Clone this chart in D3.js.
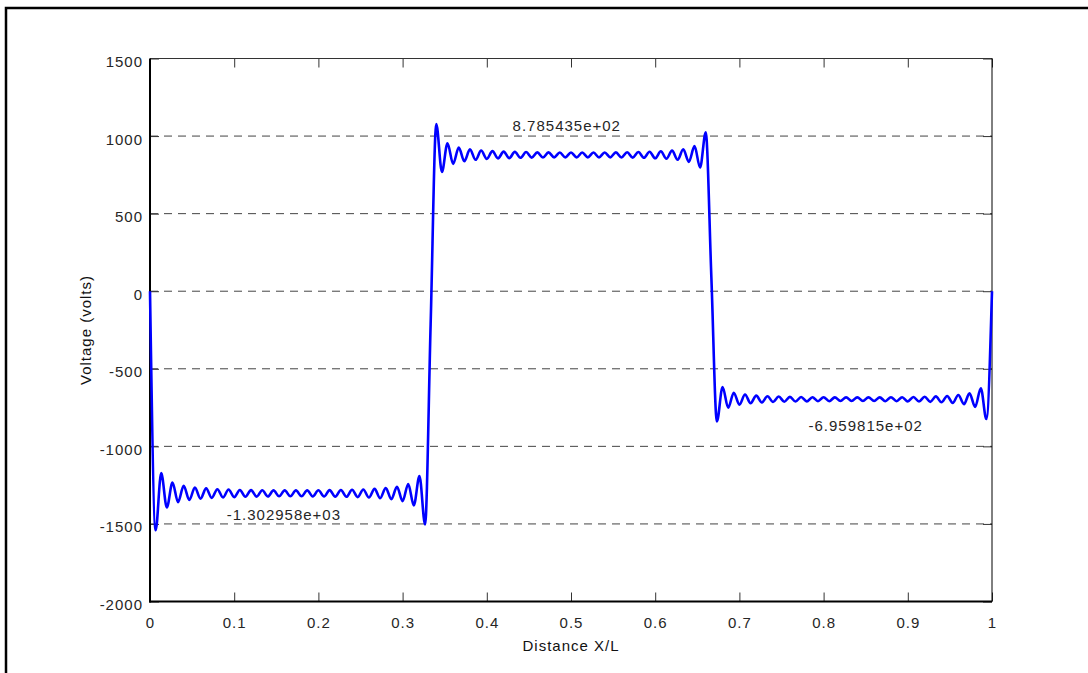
<!DOCTYPE html>
<html>
<head>
<meta charset="utf-8">
<script src="https://cdn.jsdelivr.net/npm/d3@7"></script>
<style>
  body { margin: 0; background: #fff; }
  svg { display: block; }
</style>
</head>
<body>
<script>
// Distance X/L sample points (ripple extrema, plus the jump points)
var distance = [
  0, 0.0067, 0.0133, 0.02, 0.0267, 0.0333, 0.04, 0.0467, 0.0533, 0.06, 0.0667, 0.0733, 0.08, 0.0867, 0.0933, 0.1,
  0.1067, 0.1133, 0.12, 0.1267, 0.1333, 0.14, 0.1467, 0.1533, 0.16, 0.1667, 0.1733, 0.18, 0.1867, 0.1933, 0.2,
  0.2067, 0.2133, 0.22, 0.2267, 0.2333, 0.24, 0.2467, 0.2533, 0.26, 0.2667, 0.2733, 0.28, 0.2867, 0.2933, 0.3,
  0.3067, 0.3133, 0.32, 0.3267, 0.3333,
  0.34, 0.3467, 0.3533, 0.36, 0.3667, 0.3733, 0.38, 0.3867, 0.3933, 0.4,
  0.4067, 0.4133, 0.42, 0.4267, 0.4333, 0.44, 0.4467, 0.4533, 0.46, 0.4667, 0.4733, 0.48, 0.4867, 0.4933, 0.5,
  0.5067, 0.5133, 0.52, 0.5267, 0.5333, 0.54, 0.5467, 0.5533, 0.56, 0.5667, 0.5733, 0.58, 0.5867, 0.5933, 0.6,
  0.6067, 0.6133, 0.62, 0.6267, 0.6333, 0.64, 0.6467, 0.6533, 0.66, 0.6667,
  0.6733, 0.68, 0.6867, 0.6933, 0.7,
  0.7067, 0.7133, 0.72, 0.7267, 0.7333, 0.74, 0.7467, 0.7533, 0.76, 0.7667, 0.7733, 0.78, 0.7867, 0.7933, 0.8,
  0.8067, 0.8133, 0.82, 0.8267, 0.8333, 0.84, 0.8467, 0.8533, 0.86, 0.8667, 0.8733, 0.88, 0.8867, 0.8933, 0.9,
  0.9067, 0.9133, 0.92, 0.9267, 0.9333, 0.94, 0.9467, 0.9533, 0.96, 0.9667, 0.9733, 0.98, 0.9867, 0.9933, 1
];

// Voltage at those points (volts)
var voltage = [
  0, -1541, -1172, -1394, -1233, -1360, -1254, -1346, -1265, -1337, -1271, -1332, -1276, -1329, -1278, -1327,
  -1281, -1325, -1282, -1324, -1283, -1323, -1284, -1322, -1284, -1322, -1284, -1322, -1284, -1323, -1283,
  -1323, -1282, -1324, -1281, -1325, -1280, -1327, -1278, -1330, -1274, -1334, -1269, -1341, -1260, -1353,
  -1243, -1381, -1192, -1504, -212,
  1077, 769, 954, 821, 926, 838, 914, 847, 907, 853,
  903, 856, 900, 858, 898, 860, 897, 861, 895, 862, 895, 863, 894, 863, 894,
  863, 894, 863, 894, 863, 894, 863, 895, 862, 896, 861, 897, 860, 899, 857,
  902, 854, 906, 847, 915, 834, 935, 797, 1024, 91,
  -840, -617, -751, -654, -731,
  -666, -722, -673, -717, -677, -714, -679, -712, -681, -711, -682, -710, -683, -709, -683,
  -709, -684, -708, -684, -708, -684, -708, -684, -708, -684, -709, -683, -709, -683, -710,
  -682, -711, -680, -713, -678, -716, -675, -720, -669, -728, -658, -746, -625, -824, 0
];

// Mean level of each segment (printed on the chart)
var levels = [-1302.958, 878.5435, -695.9815];

var xTicks = [0, 0.1, 0.2, 0.3, 0.4, 0.5, 0.6, 0.7, 0.8, 0.9, 1];
var yTicks = [-2000, -1500, -1000, -500, 0, 500, 1000, 1500];

var W = 1088, H = 673;
var plotLeft = 150, plotRight = 992, plotTop = 58.5, plotBottom = 601.5;
var font = "'Liberation Sans', Arial, sans-serif";
var textColor = "#262626";

var svg = d3.select("body").append("svg")
  .attr("width", W)
  .attr("height", H);

svg.append("rect").attr("width", W).attr("height", H).attr("fill", "#fff");

// outer frame (cut by the page on the right and bottom)
svg.append("rect")
  .attr("x", 6).attr("y", 8)
  .attr("width", W + 20).attr("height", H + 20)
  .attr("fill", "none")
  .attr("stroke", "#000")
  .attr("stroke-width", 2.5);

// scales
var x = d3.scaleLinear().domain([0, 1]).range([plotLeft, plotRight]);
var y = d3.scaleLinear().domain([-2000, 1500]).range([plotBottom, plotTop]);

// dashed grid
svg.append("g").selectAll("line")
  .data(yTicks.filter(function (d) { return d > -2000 && d < 1500; }))
  .enter().append("line")
  .attr("x1", plotLeft).attr("x2", plotRight)
  .attr("y1", function (d) { return y(d); })
  .attr("y2", function (d) { return y(d); })
  .attr("stroke", "#444")
  .attr("stroke-width", 1)
  .attr("stroke-dasharray", "8,6");

// axes
var xAxis = d3.axisBottom(x).tickValues(xTicks).tickSizeInner(-9).tickSizeOuter(0).tickPadding(16)
  .tickFormat(function (d) { return String(d); });
var gx = svg.append("g").attr("transform", "translate(0," + plotBottom + ")").call(xAxis);

var yAxis = d3.axisLeft(y).tickValues(yTicks).tickSizeInner(-9).tickSizeOuter(0).tickPadding(7)
  .tickFormat(function (d) { return String(d); });
var gy = svg.append("g").attr("transform", "translate(" + plotLeft + ",0)").call(yAxis);
gy.selectAll("text").attr("dy", "0.53em");

var gTop = svg.append("g").attr("transform", "translate(0," + plotTop + ")")
  .call(d3.axisTop(x).tickValues(xTicks).tickSizeInner(-9).tickSizeOuter(0).tickFormat(""));
var gRight = svg.append("g").attr("transform", "translate(" + plotRight + ",0)")
  .call(d3.axisRight(y).tickValues(yTicks).tickSizeInner(-9).tickSizeOuter(0).tickFormat(""));

[gx, gy, gTop, gRight].forEach(function (g) {
  g.select(".domain").remove();
  g.selectAll("line").attr("stroke", "#333");
  g.selectAll("text")
    .attr("fill", textColor)
    .style("font-family", font)
    .style("font-size", "15px")
    .style("letter-spacing", "1px");
});

// box
svg.append("line").attr("x1", plotLeft).attr("x2", plotRight).attr("y1", plotTop).attr("y2", plotTop)
  .attr("stroke", "#333").attr("stroke-width", 1);
svg.append("line").attr("x1", plotRight).attr("x2", plotRight).attr("y1", plotTop).attr("y2", plotBottom)
  .attr("stroke", "#000").attr("stroke-width", 1);
svg.append("line").attr("x1", plotLeft).attr("x2", plotLeft).attr("y1", plotTop).attr("y2", plotBottom + 1)
  .attr("stroke", "#000").attr("stroke-width", 2);
svg.append("line").attr("x1", plotLeft - 1).attr("x2", plotRight).attr("y1", plotBottom).attr("y2", plotBottom)
  .attr("stroke", "#000").attr("stroke-width", 2);

// voltage curve
var line = d3.line()
  .x(function (d, i) { return x(distance[i]); })
  .y(function (d) { return y(d); })
  .curve(d3.curveMonotoneX);

svg.append("path")
  .datum(voltage)
  .attr("d", line)
  .attr("fill", "none")
  .attr("stroke", "#0000ff")
  .attr("stroke-width", 2.6)
  .attr("stroke-linejoin", "round");

// level labels, matlab style %e
function fmtE(v) {
  return v.toExponential(6).replace(/e([+-])(\d+)$/, function (m, s, e) {
    return "e" + s + (e.length < 2 ? "0" + e : e);
  });
}
var labelAt = [[0.159, -1475], [0.495, 1030], [0.850, -903]];
svg.append("g").selectAll("text")
  .data(levels)
  .enter().append("text")
  .attr("x", function (d, i) { return x(labelAt[i][0]); })
  .attr("y", function (d, i) { return y(labelAt[i][1]); })
  .attr("text-anchor", "middle")
  .attr("fill", textColor)
  .style("font-family", font)
  .style("font-size", "15px")
  .style("letter-spacing", "1px")
  .text(fmtE);

// axis titles
svg.append("text")
  .attr("x", (plotLeft + plotRight) / 2)
  .attr("y", 651)
  .attr("text-anchor", "middle")
  .attr("fill", "#111")
  .style("font-family", font)
  .style("font-size", "15px")
  .style("letter-spacing", "1px")
  .text("Distance X/L");

svg.append("text")
  .attr("transform", "translate(91," + ((plotTop + plotBottom) / 2) + ") rotate(-90)")
  .attr("text-anchor", "middle")
  .attr("fill", "#111")
  .style("font-family", font)
  .style("font-size", "15px")
  .style("letter-spacing", "1px")
  .text("Voltage (volts)");
</script>
</body>
</html>
